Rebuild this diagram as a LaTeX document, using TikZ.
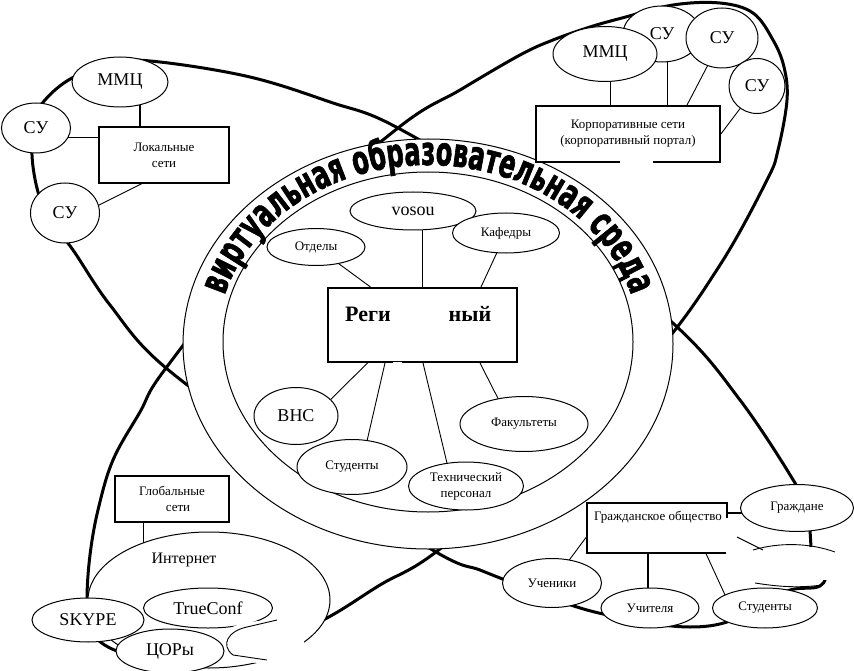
\documentclass[tikz,border=0pt]{standalone}
\usepackage{fontspec}
\setmainfont{Liberation Serif}
\newfontfamily\arcfont[FakeStretch=0.6,FakeBold=1.5]{DejaVu Sans Bold}
\usetikzlibrary{shapes.geometric,decorations.text,calc}
\pgfdeclarelayer{lyA}\pgfdeclarelayer{lyB}\pgfdeclarelayer{lyC}
\pgfsetlayers{lyA,lyB,lyC,main}
\newcommand\fbig{\fontsize{18}{20}\selectfont}
\newcommand\fmid{\fontsize{16}{18}\selectfont}
\newcommand\fsm{\fontsize{13}{16}\selectfont}
\begin{document}
\begin{tikzpicture}[x=1pt,y=-1pt,
  el/.style={draw, ellipse, fill=white, inner sep=0pt, line width=1pt},
  bx/.style={draw, rectangle, fill=white, line width=1.2pt, align=center, inner sep=0pt},
  conn/.style={line width=0.9pt},
  connb/.style={line width=1.6pt},
  orbit/.style={line width=3pt},
  txt/.style={inner sep=0pt}]
\useasboundingbox (0,0) rectangle (854,671);

% ---------- orbits ----------
\begin{pgfonlayer}{lyA}
\fill[white] (0,0) rectangle (854,671);
\draw[orbit] plot[smooth cycle, tension=0.6] coordinates {(32,155) (35,120) (45,100) (72,78) (115,62) (160,62) (250,77) (330,102) (398,128) (540,215) (675,325) (740,400) (795,483) (806,510) (811,540) (826,568) (820,586) (790,590) (760,605) (727,622) (690,627) (640,622) (603,614) (577,607) (540,594) (505,580) (480,570) (436,552) (300,465) (166,368) (110,305) (73,250) (50,220) (38,192)};
\draw[orbit] plot[smooth cycle, tension=0.6] coordinates {(87,599) (90,555) (98,510) (113,460) (140,412) (166,368) (270,240) (398,128) (460,90) (520,55) (553,40) (590,27) (622,18) (673,5) (720,3) (753,13) (773,40) (784,67) (787,100) (778,150) (767,180) (720,265) (654,355) (545,460) (436,552) (380,585) (327,618) (260,650) (190,662) (120,652) (90,630)};
\end{pgfonlayer}

% ---------- ring ----------
\begin{pgfonlayer}{lyB}
\fill[white, draw=black, line width=1pt] (428,344) ellipse [x radius=245, y radius=205];
\draw[line width=1pt] (428,342) ellipse [x radius=205, y radius=170];
\path[decorate, decoration={text along path, text align=center,
  text={|\arcfont\fontsize{40}{40}\selectfont|виртуальная образовательная среда}}]
  (428,343) ++(195:211 and 178) arc[start angle=195, end angle=345, x radius=211, y radius=178];
\end{pgfonlayer}

% ---------- top-left cluster ----------
\node[el, minimum width=96pt, minimum height=50pt, font=\fbig] (mmcA) at (120,82) {ММЦ};
\node[el, minimum width=69pt, minimum height=50pt, font=\fbig] (suA) at (36,128) {СУ};
\node[el, minimum width=69pt, minimum height=60pt, font=\fbig] (suB) at (65,213) {СУ};
\node[bx, minimum width=130pt, minimum height=56pt, font=\fsm] (locb) at (164,155) {Локальные\\сети};

% ---------- top-right cluster ----------
\node[el, minimum width=78pt, minimum height=56pt, font=\fbig] (suC) at (662,34) {СУ};
\node[el, minimum width=104pt, minimum height=55pt, font=\fbig] (mmcB) at (605,54) {ММЦ};
\node[el, minimum width=72pt, minimum height=60pt, font=\fbig] (suD) at (722,38) {СУ};
\node[el, minimum width=56pt, minimum height=55pt, font=\fbig] (suE) at (757,86) {СУ};
\node[bx, line width=1.8pt, minimum width=184pt, minimum height=56pt, font=\fsm] (korp) at (628,134) {Корпоративные сети\\(корпоративный портал)};
\draw[white, line width=3pt] ([xshift=-8pt]korp.south) -- ([xshift=25pt]korp.south);

% ---------- inside ring ----------
\node[bx, line width=2pt, minimum width=189pt, minimum height=74pt] (reg) at (422.5,325) {};
\node[txt, font=\fontsize{22}{24}\selectfont\bfseries] (regA) at (368,314) {Реги};
\node[txt, font=\fontsize{22}{24}\selectfont\bfseries] (regB) at (470,314) {ный};
\draw[white, line width=3pt] ([xshift=-29.5pt]reg.south) -- ([xshift=-20.5pt]reg.south);
\node[el, minimum width=126pt, minimum height=38pt, font=\fbig] (vosou) at (413,211) {vosou};
\node[el, minimum width=98pt, minimum height=37pt, font=\fsm] (otd) at (316,247) {Отделы};
\node[el, minimum width=107pt, minimum height=40pt, font=\fsm] (kaf) at (506,233) {Кафедры};
\node[el, minimum width=84pt, minimum height=57pt, font=\fbig] (vns) at (296,416) {ВНС};
\node[el, minimum width=110pt, minimum height=55pt, font=\fsm] (studA) at (352,467) {Студенты};
\node[el, minimum width=115pt, minimum height=48pt, align=center, font=\fsm] (tech) at (466,486) {Технический\\персонал};
\node[el, minimum width=128pt, minimum height=55pt, font=\fsm] (fak) at (524,424) {Факультеты};

% ---------- bottom-left cluster ----------
\node[bx, minimum width=114pt, minimum height=46pt, font=\fsm] (glob) at (172,499) {Глобальные\\\hspace*{12pt}сети};
\node[el, minimum width=242pt, minimum height=136pt] (inet) at (209,600) {};
\node[txt, font=\fmid] (inettxt) at (184,560) {Интернет};
\node[el, minimum width=129pt, minimum height=40pt, font=\fbig] (trueconf) at (208,608) {TrueConf};
\fill[white] (262,642) ellipse [x radius=42, y radius=21];
\draw[conn] (277,620) -- (247,627) .. controls (228,631) and (220,645) .. (233,655) -- (267,660);
\node[el, minimum width=108pt, minimum height=44pt, font=\fbig] (cor) at (170,651) {ЦОРы};
\node[el, minimum width=112pt, minimum height=44pt, font=\fbig] (skype) at (88,620) {SKYPE};

% ---------- bottom-right cluster ----------
\node[bx, minimum width=140pt, minimum height=50pt] (gbox) at (657,528) {};
\node[txt, font=\fsm] (gtxt) at (658,517) {Гражданское общество};
\fill[white] (726,518) rectangle (854,580);
\coordinate (hA) at (737,537);
\coordinate (hB) at (763,550);
\draw[conn] (hA) -- (hB);
\draw[conn] (753,550) .. controls (780,542) and (810,543) .. (835,552);
\draw[conn] (755,583) .. controls (780,587) and (800,588) .. (822,585);
\draw[orbit] (810,530) -- (811,547);
\node[el, minimum width=113pt, minimum height=47pt, font=\fsm] (grazh) at (797,508) {Граждане};
\node[el, minimum width=99pt, minimum height=49pt, font=\fsm] (uch) at (552,583) {Ученики};
\node[el, minimum width=98pt, minimum height=40pt, font=\fsm] (uchit) at (650,608) {Учителя};
\node[el, minimum width=105pt, minimum height=40pt, font=\fsm] (studB) at (765,608) {Студенты};

% ---------- connectors ----------
\begin{pgfonlayer}{lyC}
\draw[connb] ([xshift=20pt]mmcA.center) -- ([xshift=-24pt]locb.north);
\draw[conn] ([yshift=-9pt]suA.center) -- ([yshift=-9pt]suA.center -| locb.west);
\draw[conn] ([yshift=-9pt]suB.center) -- ([xshift=-22pt]locb.south);

\draw[conn] ([xshift=5pt]mmcB.center) -- ([xshift=-18pt]korp.north);
\draw[conn] ([xshift=5pt]suC.center) -- ([xshift=39pt]korp.north);
\draw[conn] (suD.center) -- ([xshift=59pt]korp.north);
\draw[conn] (suE.center) -- (korp.east);

\draw[conn] (otd.center) -- ([xshift=-52pt]reg.north);
\draw[connb] (vosou.center -| reg.north) -- (reg.north);
\draw[conn] (kaf.center) -- ([xshift=58.5pt]reg.north);
\draw[conn] ([xshift=18pt]vns.center) -- ([xshift=-55pt]reg.south);
\draw[conn] ([xshift=9pt]studA.center) -- ([xshift=-37.5pt]reg.south);
\draw[conn] ([xshift=-13.5pt]tech.center) -- ([xshift=0.5pt]reg.south);
\draw[conn] ([xshift=-13pt]fak.center) -- ([xshift=57.5pt]reg.south);

\draw[conn] ([xshift=-29pt]glob.south) -- ([xshift=-29pt]glob.south |- inet.center);

\draw[connb] ([xshift=-9pt]gbox.south) -- ([xshift=-9pt]gbox.south |- uchit.center);
\draw[conn] (uch.center) -- ([yshift=-9pt]gbox.west);
\draw[conn] ([xshift=-34pt]studB.center) -- ([xshift=49pt]gbox.south);
\draw[connb] ([yshift=15pt]gbox.east) -- ([yshift=15pt]gbox.east -| grazh.center);
\end{pgfonlayer}
\end{tikzpicture}
\end{document}
